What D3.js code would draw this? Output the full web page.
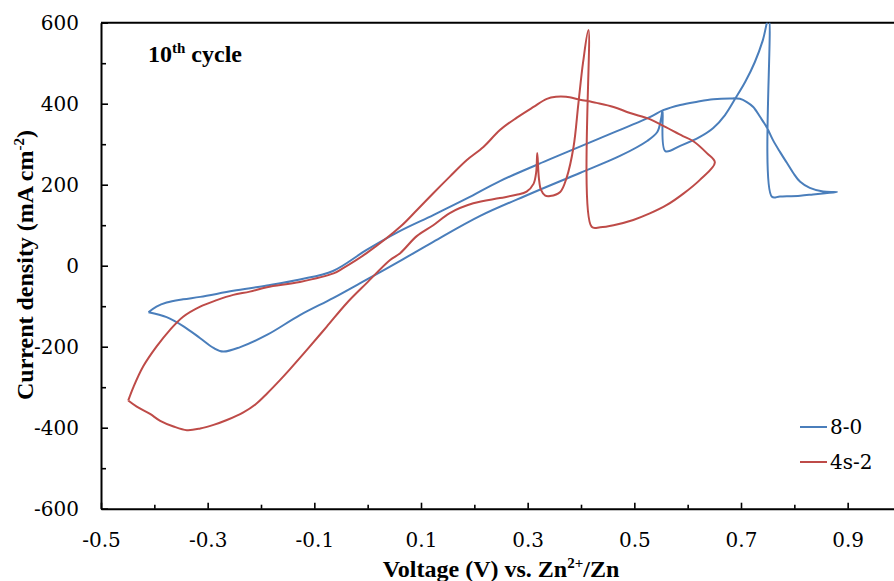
<!DOCTYPE html>
<html>
<head>
<meta charset="utf-8">
<script src="https://cdn.jsdelivr.net/npm/d3@7"></script>
<style>
body { margin: 0; background: #fff; }
.axis path, .axis line { stroke: #000; }
</style>
</head>
<body>
<div id="chart"></div>
<script>
// series names + tick values
const seriesNames = ["8-0", "4s-2"];
const xTickLabels = [-0.5, -0.3, -0.1, 0.1, 0.3, 0.5, 0.7, 0.9];
const xMinorTicks = [-0.4, -0.2, 0, 0.2, 0.4, 0.6, 0.8];
const yTickLabels = [-600, -400, -200, 0, 200, 400, 600];
const yMinorTicks = [-500, -300, -100, 100, 300, 500];

// 8-0 : voltage (V) / current (mA cm-2), one closed loop
// lower branch going right, then upper branch coming back
const v80 = [-0.411, -0.377, -0.346, -0.314, -0.289, -0.271, -0.239, -0.189, -0.127, -0.065, -0.014, 0.061, 0.123, 0.211, 0.304, 0.398, 0.473, 0.524, 0.543, 0.550, 0.553, 0.558, 0.586, 0.623, 0.648, 0.670, 0.689, 0.708, 0.726, 0.741, 0.752, 0.758, 0.773, 0.811, 0.835, 0.858, 0.880,
  0.854, 0.829, 0.811, 0.798, 0.786, 0.773, 0.760, 0.749, 0.736, 0.723, 0.711, 0.698, 0.679, 0.648, 0.618, 0.586, 0.554, 0.529, 0.436, 0.342, 0.248, 0.186, 0.123, 0.061, -0.002, -0.065, -0.127, -0.189, -0.252, -0.314, -0.346, -0.377, -0.396, -0.411];
const i80 = [-115, -127, -149, -179, -203, -212, -201, -171, -122, -80, -43, 12, 59, 123, 177, 229, 271, 308, 330, 362, 383, 283, 296, 318, 340, 372, 412, 454, 503, 557, 612, 170, 171, 173, 176, 179, 182,
  183, 192, 207, 229, 254, 281, 310, 340, 367, 392, 404, 412, 413, 411, 405, 397, 384, 367, 315, 263, 209, 166, 125, 86, 39, -13, -34, -49, -62, -77, -83, -91, -101, -115];

// 4s-2
const v4s2 = [-0.449, -0.433, -0.408, -0.389, -0.364, -0.339, -0.314, -0.289, -0.264, -0.233, -0.210, -0.189, -0.164, -0.146, -0.114, -0.077, -0.039, -0.002, 0.042, 0.061, 0.092, 0.123, 0.154, 0.198, 0.248, 0.279, 0.298, 0.311, 0.316, 0.318, 0.321, 0.325, 0.333, 0.342, 0.361, 0.373, 0.386, 0.395, 0.404, 0.414, 0.420, 0.436, 0.461, 0.498, 0.529, 0.561, 0.592, 0.623, 0.651,
  0.636, 0.610, 0.591, 0.559, 0.529, 0.492, 0.461, 0.429, 0.398, 0.372, 0.353, 0.336, 0.311, 0.279, 0.248, 0.217, 0.186, 0.154, 0.123, 0.092, 0.061, -0.002, -0.046, -0.064, -0.127, -0.189, -0.221, -0.252, -0.283, -0.314, -0.346, -0.371, -0.396, -0.421, -0.439, -0.449];
const i4s2 = [-333, -348, -366, -383, -397, -406, -402, -393, -381, -362, -342, -316, -282, -256, -208, -151, -92, -43, 14, 31, 73, 100, 130, 154, 167, 175, 183, 202, 231, 278, 217, 187, 173, 172, 182, 217, 293, 399, 503, 582, 96, 95, 100, 113, 129, 150, 178, 212, 255,
  278, 308, 320, 342, 362, 377, 392, 402, 410, 417, 417, 412, 392, 365, 335, 293, 261, 220, 179, 137, 96, 31, -6, -19, -40, -53, -64, -72, -85, -101, -126, -159, -200, -249, -299, -333];

const colors = ["#4A7EBB", "#BE4B48"];
const boldFont = "'Liberation Serif'";
const labelFont = "'DejaVu Serif'";   // regular Liberation Serif renders sans-like at ~23px here

let svgWidth = 894, svgHeight = 581;
let svg = d3.select("#chart").append("svg")
  .attr("width", svgWidth)
  .attr("height", svgHeight);

let x = d3.scaleLinear().domain([-0.5, 1.0]).range([101, 901]);
let y = d3.scaleLinear().domain([-600, 600]).range([508.7, 22.7]);

svg.append("clipPath").attr("id", "plotclip")
  .append("rect")
  .attr("x", x(-0.5)).attr("y", y(600))
  .attr("width", x(1.0) - x(-0.5)).attr("height", y(-600) - y(600));

// minor ticks
svg.append("g")
  .attr("class", "axis")
  .attr("transform", "translate(0," + y(-600) + ")")
  .call(d3.axisBottom(x).tickValues(xMinorTicks).tickSize(-4).tickFormat(""))
  .call(g => g.select(".domain").remove());
svg.append("g")
  .attr("class", "axis")
  .attr("transform", "translate(" + x(-0.5) + ",0)")
  .call(d3.axisLeft(y).tickValues(yMinorTicks).tickSize(-5).tickFormat(""))
  .call(g => g.select(".domain").remove());

// major axes
svg.append("g")
  .attr("class", "axis")
  .attr("transform", "translate(0," + y(-600) + ")")
  .call(d3.axisBottom(x).tickValues(xTickLabels).tickSizeInner(-6).tickSizeOuter(0).tickPadding(24)
    .tickFormat(d => d.toFixed(1)));
svg.append("g")
  .attr("class", "axis")
  .attr("transform", "translate(" + x(-0.5) + ",0)")
  .call(d3.axisLeft(y).tickValues(yTickLabels).tickSizeInner(-7).tickSizeOuter(0).tickPadding(22)
    .tickFormat(d => String(d)));
svg.selectAll(".axis .domain").attr("stroke-width", 2);
svg.selectAll(".axis line").attr("stroke-width", 1.6);
svg.selectAll(".axis text")
  .style("font-family", labelFont)
  .style("font-size", "20px")
  .style("fill", "#000");

// top border
svg.append("line")
  .attr("x1", x(-0.5)).attr("x2", x(1.0))
  .attr("y1", y(600)).attr("y2", y(600))
  .attr("stroke", "#000").attr("stroke-width", 2);

// curves
let series = [
  { name: seriesNames[0], v: v80, i: i80, color: colors[0] },
  { name: seriesNames[1], v: v4s2, i: i4s2, color: colors[1] }
];
let line = d3.line()
  .x(d => x(d[0]))
  .y(d => y(d[1]))
  .curve(d3.curveCatmullRom.alpha(0.5));

let plot = svg.append("g").attr("clip-path", "url(#plotclip)");
series.forEach(function (s) {
  let pts = s.v.map((v, k) => [v, s.i[k]]);
  plot.append("path")
    .datum(pts)
    .attr("fill", "none")
    .attr("stroke", s.color)
    .attr("stroke-width", 2)
    .attr("stroke-linejoin", "round")
    .attr("d", line);
});

// legend
let legend = svg.append("g");
series.forEach(function (s, k) {
  let ly = 427 + k * 35;
  legend.append("line")
    .attr("x1", 800).attr("x2", 827)
    .attr("y1", ly).attr("y2", ly)
    .attr("stroke", s.color).attr("stroke-width", 2);
  legend.append("text")
    .attr("x", 830).attr("y", ly + 7)
    .style("font-family", labelFont)
    .style("font-size", "20px")
    .text(s.name);
});

// 10th cycle
let note = svg.append("text")
  .attr("x", 148).attr("y", 62)
  .style("font-family", boldFont)
  .style("font-size", "24px").style("font-weight", "bold");
note.append("tspan").text("10");
note.append("tspan").attr("dy", -9).style("font-size", "15px").text("th");
note.append("tspan").attr("dy", 9).text(" cycle");

// axis titles
let xt = svg.append("text")
  .attr("x", 501).attr("y", 577)
  .attr("text-anchor", "middle")
  .style("font-family", boldFont)
  .style("font-size", "24px").style("font-weight", "bold");
xt.append("tspan").text("Voltage (V) vs. Zn");
xt.append("tspan").attr("dy", -9).style("font-size", "15px").text("2+");
xt.append("tspan").attr("dy", 9).text("/Zn");

let yt = svg.append("text")
  .attr("transform", "translate(33,265) rotate(-90)")
  .attr("text-anchor", "middle")
  .style("font-family", boldFont)
  .style("font-size", "24px").style("font-weight", "bold");
yt.append("tspan").text("Current density (mA cm");
yt.append("tspan").attr("dy", -9).style("font-size", "15px").text("-2");
yt.append("tspan").attr("dy", 9).text(")");
</script>
</body>
</html>
